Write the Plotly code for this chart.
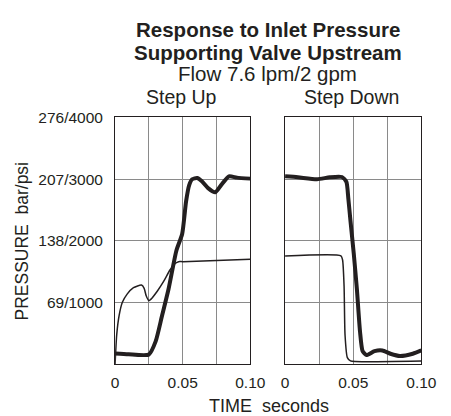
import plotly.graph_objects as go
from plotly.subplots import make_subplots

# time in seconds, pressure in psi
up_thick_t = [0, 0.01, 0.025, 0.030, 0.0348, 0.0395, 0.0454, 0.0496, 0.0525, 0.0548, 0.057,
              0.0607, 0.0642, 0.069, 0.0741, 0.0784, 0.0842, 0.0901, 0.1]
up_thick_p = [174, 160, 158, 369, 792, 1214, 1847, 2111, 2639, 2902, 2997,
              3018, 2966, 2850, 2786, 2902, 3045, 3024, 3008]

up_thin_t = [0, 0.0012, 0.003, 0.0054, 0.0089, 0.0136, 0.0195, 0.0215, 0.023, 0.025, 0.0266,
             0.0313, 0.036, 0.0407, 0.0447, 0.047, 0.0501, 0.1]
up_thin_p = [0, 475, 792, 1003, 1135, 1240, 1282, 1230, 1108, 1029, 1055,
             1187, 1346, 1530, 1636, 1662, 1662, 1699]

down_thick_t = [0, 0.0094, 0.0234, 0.0328, 0.0417, 0.045, 0.0464, 0.048, 0.0504, 0.0527, 0.055,
                0.0569, 0.0597, 0.0656, 0.0714, 0.0773, 0.0843, 0.0937, 0.1]
down_thick_p = [3045, 3029, 2997, 3029, 3034, 2955, 2691, 2322, 1794, 1214, 528,
                211, 148, 211, 222, 169, 132, 169, 222]

down_thin_t = [0, 0.041, 0.0422, 0.0433, 0.044, 0.0457, 0.048, 0.0515, 0.1]
down_thin_p = [1752, 1757, 1689, 1266, 475, 106, 53, 42, 53]

x_ticks = [0, 0.025, 0.05, 0.075, 0.1]
x_labels = ["0", "", "0.05", "", "0.10"]
y_ticks = [1000, 2000, 3000, 4000]
y_labels = ["69/1000", "138/2000", "207/3000", "276/4000"]

FONT = "Liberation Sans, Arial, sans-serif"
INK = "#231f20"

# page body has an 8px margin, so the figure is drawn 8px in from the window corner
W, H, OFF = 443, 408, 8


def px(x):
    return (x - OFF) / W


def py(y):
    return 1 - (y - OFF) / H


fig = make_subplots(rows=1, cols=2)

for col, (tk, pk, tn, pn) in enumerate([(up_thick_t, up_thick_p, up_thin_t, up_thin_p),
                                        (down_thick_t, down_thick_p, down_thin_t, down_thin_p)], start=1):
    fig.add_vline(x=0.05, line=dict(color="#333", width=1), layer="below", row=1, col=col)
    fig.add_trace(go.Scatter(x=tn, y=pn, mode="lines",
                             line=dict(color=INK, width=1.5, shape="spline", smoothing=0.6)),
                  row=1, col=col)
    fig.add_trace(go.Scatter(x=tk, y=pk, mode="lines",
                             line=dict(color=INK, width=4, shape="spline", smoothing=0.6)),
                  row=1, col=col)

fig.update_layout(
    width=W, height=H,
    margin=dict(l=0, r=0, t=0, b=0),
    showlegend=False,
    plot_bgcolor="white",
    paper_bgcolor="white",
    font=dict(family=FONT, color=INK, size=15.5),
    xaxis=dict(domain=[px(115.7), px(257)]),
    xaxis2=dict(domain=[px(293.3), px(435.7)]),
    yaxis=dict(domain=[py(363), py(110.7)]),
    yaxis2=dict(domain=[py(363), py(110.7)]),
)

fig.update_xaxes(range=[0, 0.1], tickvals=x_ticks, ticktext=x_labels,
                 showgrid=True, gridcolor="#8a8a8a", gridwidth=1,
                 showline=True, linecolor=INK, linewidth=1, mirror=True,
                 zeroline=False, ticks="", tickfont=dict(size=15.5), ticklabelstandoff=4)
fig.update_yaxes(range=[0, 4000], tickvals=y_ticks, ticktext=y_labels,
                 showgrid=True, gridcolor="#8a8a8a", gridwidth=1,
                 showline=True, linecolor=INK, linewidth=1, mirror=True,
                 zeroline=False, ticks="", tickfont=dict(size=15.5), ticklabelstandoff=8)
fig.update_yaxes(showticklabels=False, row=1, col=2)

ann = [
    ("<b>Response to Inlet Pressure</b>", 275, 21, 20.5),
    ("<b>Supporting Valve Upstream</b>", 275, 44, 20.5),
    ("Flow 7.6 lpm/2 gpm", 275, 65.5, 20.5),
    ("Step Up", 185.5, 89.5, 19.5),
    ("Step Down", 363, 89.5, 19.5),
    ("TIME\u00a0 seconds", 276, 405.5, 18),
]
for text, x, y, size in ann:
    fig.add_annotation(text=text, x=px(x), y=py(y), xref="paper", yref="paper",
                       showarrow=False, xanchor="center", yanchor="middle",
                       font=dict(size=size, family=FONT, color=INK))
fig.add_annotation(text="PRESSURE\u00a0 bar/psi", x=px(18), y=py(237), xref="paper", yref="paper",
                   showarrow=False, textangle=-90, xanchor="center", yanchor="middle",
                   font=dict(size=17.5, family=FONT, color=INK))

fig.write_html("out.html")
